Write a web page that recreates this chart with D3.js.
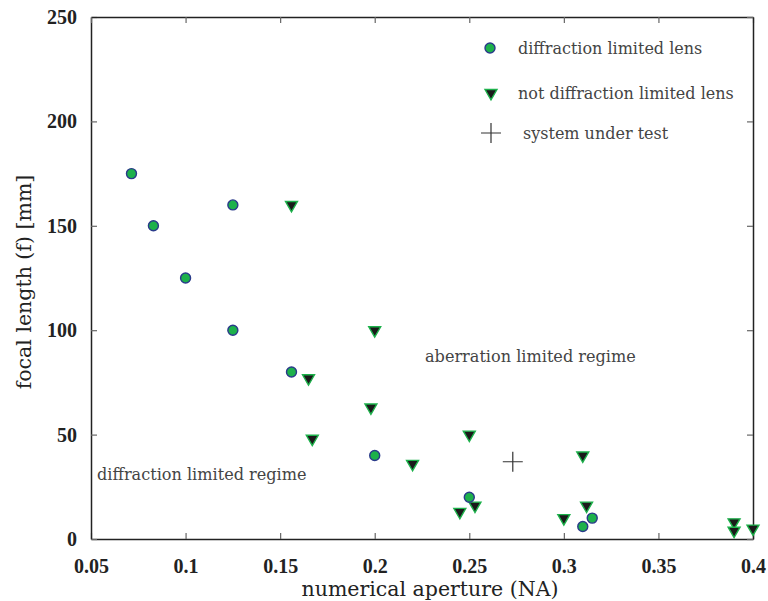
<!DOCTYPE html>
<html>
<head>
<meta charset="utf-8">
<script src="https://cdn.jsdelivr.net/npm/d3@7"></script>
<style>
  body { margin: 0; background: #fff; }
</style>
</head>
<body>
<div id="chart"></div>
<script>
// diffraction limited lenses
var dlNA = [0.0714, 0.083, 0.1, 0.125, 0.125, 0.156, 0.2, 0.25, 0.31, 0.315];
var dlF  = [175, 150, 125, 160, 100, 80, 40, 20, 6, 10];

// not diffraction limited lenses
var ndlNA = [0.156, 0.2, 0.165, 0.198, 0.167, 0.22, 0.25, 0.245, 0.253, 0.3, 0.31, 0.312, 0.39, 0.39, 0.4];
var ndlF  = [160, 100, 77, 63, 48, 36, 50, 13, 16, 10, 40, 16, 8, 4, 5];

// system under test
var sutNA = [0.273];
var sutF  = [37];

var xTicks = [0.05, 0.1, 0.15, 0.2, 0.25, 0.3, 0.35, 0.4];
var yTicks = [0, 50, 100, 150, 200, 250];

var serifBold = "'Liberation Serif', serif";
var serif = "'DejaVu Serif', serif";

var margin = {top: 17, right: 15, bottom: 62, left: 91},
    pw = 768 - margin.left - margin.right,
    ph = 601 - margin.top - margin.bottom;

var svg = d3.select("#chart").append("svg")
    .attr("width", 768)
    .attr("height", 601)
  .append("g")
    .attr("transform", "translate(" + margin.left + "," + margin.top + ")");

var x = d3.scaleLinear().domain([0.05, 0.4]).range([0, pw]);
var y = d3.scaleLinear().domain([0, 250]).range([ph, 0]);

// axes, ticks point inward
svg.append("g")
    .attr("class", "x axis")
    .attr("transform", "translate(0," + ph + ")")
    .call(d3.axisBottom(x).tickValues(xTicks).tickSizeInner(-6).tickSizeOuter(0).tickPadding(20)
      .tickFormat(function(d) { return String(+d.toFixed(2)); }));

svg.append("g")
    .attr("class", "y axis")
    .call(d3.axisLeft(y).tickValues(yTicks).tickSizeInner(-6).tickSizeOuter(0).tickPadding(14));

svg.append("g")
    .attr("class", "x axis top")
    .call(d3.axisTop(x).tickValues(xTicks).tickSizeInner(-6).tickSizeOuter(0).tickFormat(""));

svg.append("g")
    .attr("class", "y axis right")
    .attr("transform", "translate(" + pw + ",0)")
    .call(d3.axisRight(y).tickValues(yTicks).tickSizeInner(-6).tickSizeOuter(0).tickFormat(""));

svg.selectAll(".axis path").attr("stroke", "#222").attr("stroke-width", 1.5);
svg.selectAll(".axis line").attr("stroke", "#666").attr("stroke-width", 1.2);
svg.selectAll(".axis .tick text")
    .style("font-family", serifBold)
    .style("font-weight", "bold")
    .style("font-size", "20px")
    .style("fill", "#222");

// axis labels
svg.append("text")
    .attr("x", pw / 2 + 8)
    .attr("y", ph + 57)
    .attr("text-anchor", "middle")
    .style("font-family", serif)
    .style("font-size", "20.5px")
    .style("fill", "#222")
    .text("numerical aperture (NA)");

svg.append("text")
    .attr("transform", "translate(-60," + (ph / 2 + 4) + ") rotate(-90)")
    .attr("text-anchor", "middle")
    .style("font-family", serif)
    .style("font-size", "20.5px")
    .style("fill", "#222")
    .text("focal length (f) [mm]");

// regime annotations
svg.append("text")
    .attr("x", 334)
    .attr("y", 345)
    .style("font-family", serif)
    .style("font-size", "16.1px")
    .style("fill", "#444")
    .text("aberration limited regime");

svg.append("text")
    .attr("x", 6)
    .attr("y", 463)
    .style("font-family", serif)
    .style("font-size", "16.1px")
    .style("fill", "#444")
    .text("diffraction limited regime");

var tri = d3.symbol().type(d3.symbolTriangle).size(62);

function drawCircle(g, cx, cy) {
  g.append("circle")
    .attr("cx", cx).attr("cy", cy).attr("r", 5)
    .attr("fill", "#1db14b")
    .attr("stroke", "#2a3a8a")
    .attr("stroke-width", 1.4);
}

function drawTri(g, cx, cy) {
  g.append("path")
    .attr("d", tri)
    .attr("transform", "translate(" + cx + "," + cy + ") rotate(180)")
    .attr("fill", "#1a1a1a")
    .attr("stroke", "#1db14b")
    .attr("stroke-width", 1.4);
}

function drawCross(g, cx, cy) {
  g.append("path")
    .attr("d", "M" + (cx - 10) + "," + cy + "H" + (cx + 10) + "M" + cx + "," + (cy - 10) + "V" + (cy + 10))
    .attr("stroke", "#333")
    .attr("stroke-width", 1.2)
    .attr("fill", "none");
}

var marks = svg.append("g");

ndlNA.forEach(function(d, i) { drawTri(marks, x(d), y(ndlF[i])); });
dlNA.forEach(function(d, i) { drawCircle(marks, x(d), y(dlF[i])); });
sutNA.forEach(function(d, i) { drawCross(marks, x(d), y(sutF[i])); });

// legend
var legend = svg.append("g").attr("transform", "translate(399,31)");
var legendItems = ["diffraction limited lens", "not diffraction limited lens", "system under test"];

drawCircle(legend, 0, 0);
drawTri(legend, 1, 45);
drawCross(legend, 1, 85);

legend.selectAll("text.leg")
    .data(legendItems)
    .enter().append("text")
    .attr("class", "leg")
    .attr("x", function(d, i) { return i == 2 ? 33 : 28; })
    .attr("y", function(d, i) { return [0, 45, 85][i]; })
    .attr("dy", "0.35em")
    .style("font-family", serif)
    .style("font-size", "16px")
    .style("fill", "#444")
    .text(function(d) { return d; });
</script>
</body>
</html>
